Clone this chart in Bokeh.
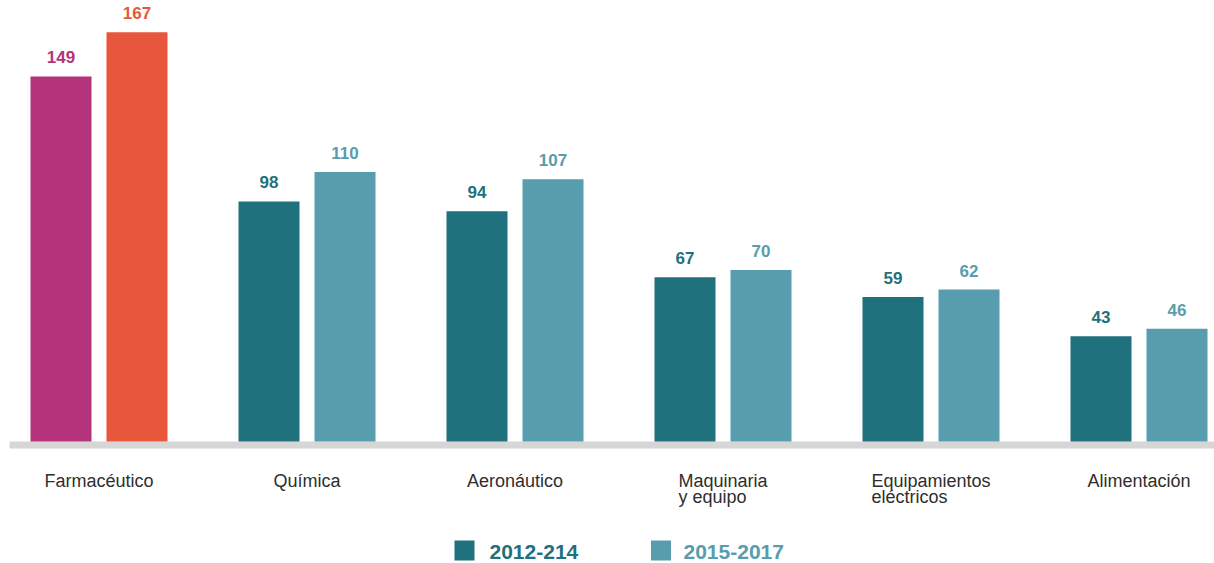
from bokeh.plotting import figure
from bokeh.models import Range1d
from bokeh.core.properties import value
from bokeh.embed import file_html
from bokeh.resources import INLINE

# ---------------- data ----------------
categories = ["Farmacéutico", "Química", "Aeronáutico",
              "Maquinaria\ny equipo", "Equipamientos\neléctricos", "Alimentación"]
periods = ["2012-214", "2015-2017"]
values_2012_2014 = [149, 98, 94, 67, 59, 43]
values_2015_2017 = [167, 110, 107, 70, 62, 46]

# ---------------- styles / layout ----------------
DARK = "#1F717D"
LIGHT = "#579DAE"
MAGENTA = "#B5337A"
ORANGE = "#E8573C"
GREY = "#D6D6D6"
TEXT = "#2E2E2E"

W, H = 1214, 563
GROUP_PX = 208.0          # pixel distance between groups
FIRST_CENTER_PX = 98.5    # pixel x of the first group centre
BASE_PX = 441.0           # pixel y of the zero line
S = 2.45                  # pixels per unit
BAR_PX = 61.0
OFFSET_PX = 38.0
TXT_SHIFT = -6            # compensation for baseline rendering

x0 = -FIRST_CENTER_PX / GROUP_PX
x1 = (W - FIRST_CENTER_PX) / GROUP_PX
y_top = BASE_PX / S
y_bot = -(H - BASE_PX) / S


def fx(px):
    return x0 + px / GROUP_PX


def fy(py):
    return (BASE_PX - py) / S


p = figure(width=W, height=H, output_backend="svg", toolbar_location=None,
           x_axis_type=None, y_axis_type=None,
           x_range=Range1d(x0, x1), y_range=Range1d(y_bot, y_top),
           min_border=0, outline_line_color=None)
p.xgrid.visible = False
p.ygrid.visible = False
p.background_fill_color = "white"
p.border_fill_color = "white"

# baseline band
p.quad(left=[fx(9)], right=[fx(W + 20)], top=[0], bottom=[fy(BASE_PX + 7)],
       fill_color=GREY, line_color=None)

n = len(categories)
idx = list(range(n))
off = OFFSET_PX / GROUP_PX
bw = BAR_PX / GROUP_PX

colors1 = [MAGENTA if i == 0 else DARK for i in idx]
colors2 = [ORANGE if i == 0 else LIGHT for i in idx]

xs1 = [i - off for i in idx]
xs2 = [i + off for i in idx]

p.vbar(x=xs1, top=values_2012_2014, bottom=0, width=bw, fill_color=colors1, line_color=None)
p.vbar(x=xs2, top=values_2015_2017, bottom=0, width=bw, fill_color=colors2, line_color=None)

num_font = value("Liberation Sans")
p.text(x=xs1, y=values_2012_2014, text=[str(v) for v in values_2012_2014],
       text_align="center", text_baseline="alphabetic", y_offset=-13 + TXT_SHIFT,
       text_font=num_font, text_font_style="bold", text_font_size="17px",
       text_color=colors1)
p.text(x=xs2, y=values_2015_2017, text=[str(v) for v in values_2015_2017],
       text_align="center", text_baseline="alphabetic", y_offset=-13 + TXT_SHIFT,
       text_font=num_font, text_font_style="bold", text_font_size="17px",
       text_color=colors2)

# category labels
block_half = {"Maquinaria\ny equipo": 44.5, "Equipamientos\neléctricos": 59.5}
for i, c in enumerate(categories):
    lines = c.split("\n")
    if len(lines) == 1:
        p.text(x=[i], y=[0], text=[c], text_align="center", text_baseline="alphabetic",
               y_offset=45 + TXT_SHIFT, text_font=value("Liberation Sans"),
               text_font_size="18px", text_color=TEXT)
    else:
        for k, line in enumerate(lines):
            p.text(x=[i], y=[0], text=[line], text_align="left", text_baseline="alphabetic",
                   x_offset=-block_half[c], y_offset=45 + 16 * k + TXT_SHIFT,
                   text_font=value("Liberation Sans"), text_font_size="18px",
                   text_color=TEXT)

# legend
leg_sq_px = [464, 660.5]
leg_tx_px = [489, 683]
leg_colors = [DARK, LIGHT]
p.scatter(x=[fx(v) for v in leg_sq_px], y=[fy(550)] * 2, marker="square", size=20,
          fill_color=leg_colors, line_color=None)
p.text(x=[fx(v) for v in leg_tx_px], y=[fy(557)] * 2, text=periods,
       text_align="left", text_baseline="alphabetic", y_offset=TXT_SHIFT,
       text_font=value("Liberation Sans"), text_font_style="bold", text_font_size="21px",
       text_color=leg_colors)

open("out.html", "w").write(file_html(p, INLINE))
